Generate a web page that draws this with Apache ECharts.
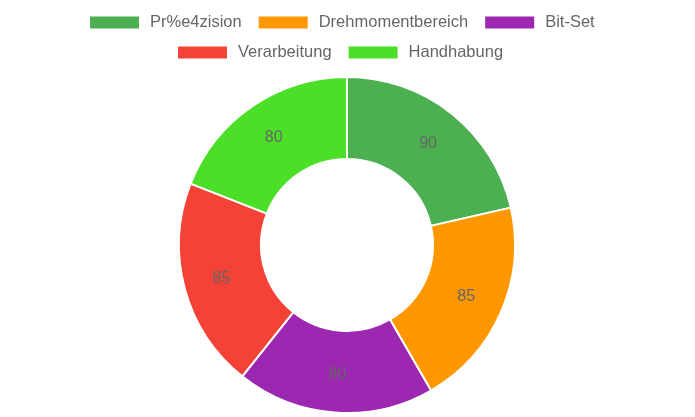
<!DOCTYPE html>
<html><head><meta charset="utf-8">
<script src="https://cdn.jsdelivr.net/npm/echarts@6/dist/echarts.min.js"></script>
<style>html,body{margin:0;padding:0;background:#fff}#c{width:695px;height:417px}</style>
</head><body><div id="c"></div>
<script>
const categories = ['Pr%e4zision', 'Drehmomentbereich', 'Bit-Set', 'Verarbeitung', 'Handhabung'];
const values = [90, 85, 80, 85, 80];
const colors = ['#4CAF50', '#FF9800', '#9C27B0', '#F44336', '#4CDF27'];
const legendRow1 = categories.slice(0, 3);
const legendRow2 = categories.slice(3);

const legendBase = {
  padding: 0,
  icon: 'rect',
  itemWidth: 51,
  itemHeight: 14,
  itemGap: 15,
  orient: 'horizontal',
  textStyle: { fontSize: 16.5, lineHeight: 15, padding: [0, 0, 0, 5], color: '#666', fontFamily: 'Liberation Sans, Arial, sans-serif' }
};

const chart = echarts.init(document.getElementById('c'));
chart.setOption({
  animation: false,
  color: colors,
  legend: [
    Object.assign({}, legendBase, { top: 14, left: 88, data: legendRow1 }),
    Object.assign({}, legendBase, { top: 44, left: 176, data: legendRow2 })
  ],
  series: [{
    type: 'pie',
    center: [347, 245],
    radius: [86, 168],
    startAngle: 90,
    itemStyle: { borderColor: '#fff', borderWidth: 2 },
    label: { show: true, position: 'inside', formatter: '{c}', fontSize: 16, color: '#666', fontFamily: 'Liberation Sans, Arial, sans-serif' },
    labelLine: { show: false },
    data: categories.map((n, i) => ({ name: n, value: values[i] }))
  }]
});
</script></body></html>
